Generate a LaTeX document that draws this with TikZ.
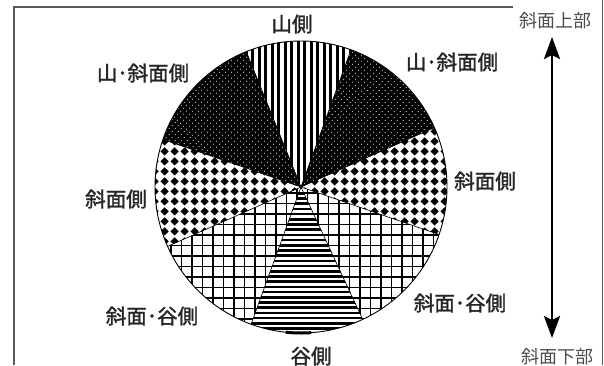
\documentclass[tikz,border=0pt]{standalone}
\usepackage{fontspec}
\newfontfamily\jp{Noto Sans CJK JP}
\newfontfamily\jpm{Noto Sans CJK JP}[FakeBold=1.6]
\usetikzlibrary{patterns.meta,arrows.meta}

\pgfdeclarepattern{
  name=diamondgrid, type=uncolored,
  bottom left={\pgfpoint{0pt}{0pt}}, top right={\pgfpoint{10pt}{10pt}},
  tile size={\pgfpoint{10pt}{10pt}},
  code={
    \pgfpathmoveto{\pgfpoint{5pt}{0.5pt}}
    \pgfpathlineto{\pgfpoint{9.5pt}{5pt}}
    \pgfpathlineto{\pgfpoint{5pt}{9.5pt}}
    \pgfpathlineto{\pgfpoint{0.5pt}{5pt}}
    \pgfpathclose
    \pgfusepath{fill}
  }
}

\begin{document}
\begin{tikzpicture}[x=1pt,y=1pt,
  lbl/.style={font=\jpm\fontsize{20.5}{20.5}\selectfont, inner sep=0pt, text=black!85},
  side/.style={font=\jp\fontsize{18}{18}\selectfont, inner sep=0pt, text=black!70},
  frameline/.style={line width=1.1pt, draw=black!65},
  diapat/.style={pattern=diamondgrid},
  darkbase/.style={fill=black},
  dotpat/.style={pattern={Dots[radius=0.6pt,distance=4pt,angle=45]}, pattern color=white},
  border/.style={draw=black, line width=0.6pt},
  gridline/.style={line width=1.4pt},
]
\useasboundingbox (0,0) rectangle (604,365);

% frame
\draw[frameline] (14,0) -- (14,358) -- (513,358);
\draw[frameline, line width=0.8pt] (602,0) -- (602,365);

\coordinate (C) at (301,178);
\def\R{146}
\newcommand\secPath[2]{(C) -- ++(#1:\R) arc[start angle=#1,end angle=#2,radius=\R] -- cycle}
\newcommand\pieSec[3]{\path[#3] \secPath{#1}{#2};}

% mountain side: vertical bars
\begin{scope}
  \clip \secPath{70}{112};
  \foreach \i in {0,...,24} \fill (225+6.5*\i,170) rectangle ++(3.3,165);
\end{scope}
% dark dotted sectors
\pieSec{112}{161}{darkbase}
\pieSec{112}{161}{dotpat}
\pieSec{24}{70}{darkbase}
\pieSec{24}{70}{dotpat}
% diamonds
\pieSec{161}{204}{diapat}
\pieSec{341}{384}{diapat}
% grids
\begin{scope}
  \clip \secPath{204}{250} \secPath{295}{341};
  \foreach \i in {0,...,30} \draw[gridline] (150+10.5*\i,20) -- ++(0,170);
  \foreach \i in {0,...,16} \draw[gridline] (150,25+10.5*\i) -- ++(310,0);
\end{scope}
% valley side: horizontal bars
\begin{scope}
  \clip \secPath{250}{295};
  \foreach \i in {0,...,33} \fill (240,30+5.2*\i) rectangle ++(130,2.7);
\end{scope}

\foreach \a in {70,112,161,204,250,295,341,24}
  \draw[border] (C) -- ++(\a:\R);
\draw[line width=0.9pt] (C) circle[radius=\R];
\draw[line width=3pt] (C) ++(264:\R) arc[start angle=264,end angle=274,radius=\R];

% labels
\node[lbl] (l1) at (292,341) {山側};
\node[lbl] (l2) at (452,303) {山･斜面側};
\node[lbl] (l3) at (143,292) {山･斜面側};
\node[lbl] (l4) at (485,184) {斜面側};
\node[lbl] (l5) at (116,166) {斜面側};
\node[lbl] (l6) at (460,62) {斜面･谷側};
\node[lbl] (l7) at (152,49) {斜面･谷側};
\node[lbl] (l8) at (311,9) {谷側};

\node[side] (up) at (555,344) {斜面上部};
\node[side] (down) at (557,8) {斜面下部};

\coordinate (atop) at (552,328);
\coordinate (abot) at (552,27);
\draw[line width=2.6pt, {Stealth[length=22pt,width=16pt,inset=4pt]}-{Stealth[length=22pt,width=16pt,inset=4pt]}] (atop) -- (abot);
\end{tikzpicture}
\end{document}
